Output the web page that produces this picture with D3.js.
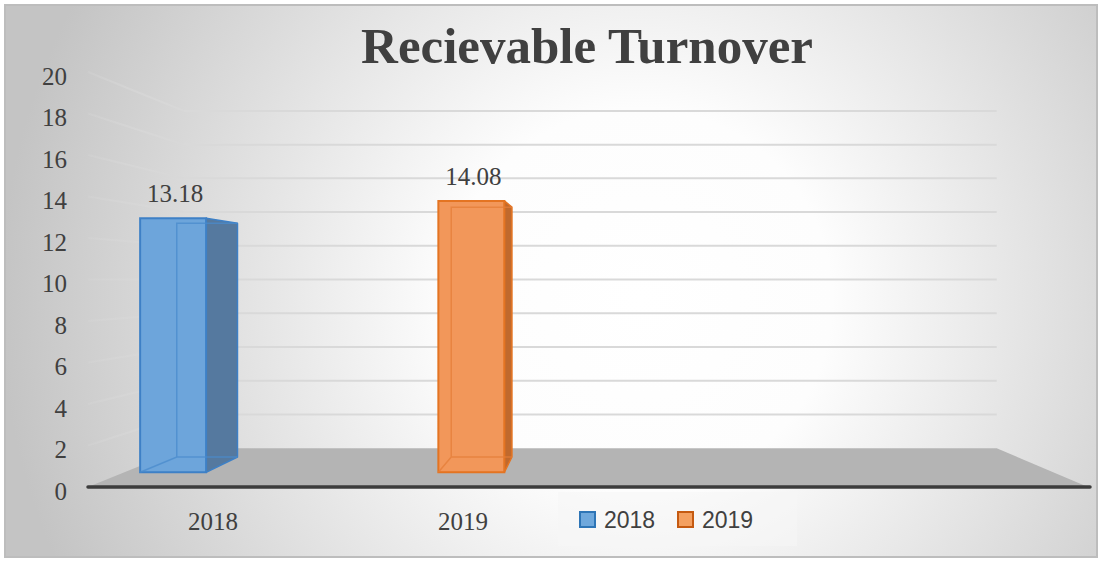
<!DOCTYPE html>
<html><head><meta charset="utf-8">
<script src="https://cdn.jsdelivr.net/npm/d3@7"></script>
<style>html,body{margin:0;padding:0;background:#fff;}svg{display:block;}</style>
</head><body>
<svg id="chart" width="1101" height="561"></svg>
<script>
const title = "Recievable Turnover";
const categories = ["2018", "2019"];
const seriesNames = ["2018", "2019"];
const series2018 = [13.18, null];
const series2019 = [null, 14.08];
const yTicks = [0, 2, 4, 6, 8, 10, 12, 14, 16, 18, 20];
const seriesColors = {
  "2018": {front: "#6da5db", side: "#55799f", stroke: "#3e80c6", inner: "#4a8bcc", legFill: "#6fa8dc", legStroke: "#2e75b6"},
  "2019": {front: "#f2975a", side: "#c0692d", stroke: "#e47422", inner: "#e47e38", legFill: "#f4a060", legStroke: "#c55a11"}
};
const serif = "'Liberation Serif', 'Times New Roman', Times, serif";
const sans = "'Liberation Sans', Arial, sans-serif";

const svg = d3.select("#chart");
const defs = svg.append("defs");

// background gradient
const bg = defs.append("radialGradient").attr("id", "bg")
  .attr("gradientUnits", "userSpaceOnUse").attr("cx", 640).attr("cy", 300).attr("r", 640);
bg.append("stop").attr("offset", 0).attr("stop-color", "#ffffff");
bg.append("stop").attr("offset", 0.3).attr("stop-color", "#fdfdfd");
bg.append("stop").attr("offset", 1).attr("stop-color", "#c4c4c4");

svg.append("rect").attr("x", 5).attr("y", 5).attr("width", 1092).attr("height", 552)
  .attr("fill", "url(#bg)").attr("stroke", "#bdbdbd").attr("stroke-width", 2);

// scales (front plane)
const y = d3.scaleLinear().domain([0, 20]).range([487, 72]);
const x = d3.scaleBand().domain(categories).range([88, 588]);
const xs = d3.scaleBand().domain(seriesNames).range([17, 159]);
const frontLeft = 88, frontRight = 1088;

// one-point perspective
const VP = [600, 280];
const tWall = 0.187, tFront = 0.071, tBack = 0.145;
const P = (xf, v, t) => {
  const yf = y(v);
  return [xf + (VP[0] - xf) * t, yf + (VP[1] - yf) * t];
};
const line = pts => "M" + pts.map(p => p[0].toFixed(2) + "," + p[1].toFixed(2)).join("L");
const poly = pts => line(pts) + "Z";

// side wall fading gradient
const sg = defs.append("linearGradient").attr("id", "sideGrad")
  .attr("gradientUnits", "userSpaceOnUse").attr("x1", frontLeft).attr("x2", P(frontLeft, 0, tWall)[0]).attr("y1", 0).attr("y2", 0);
sg.append("stop").attr("offset", 0).attr("stop-color", "#d8d8d8").attr("stop-opacity", 0.25);
sg.append("stop").attr("offset", 1).attr("stop-color", "#d8d8d8").attr("stop-opacity", 1);

// gridlines
const grid = svg.append("g");
yTicks.filter(v => v > 0).forEach(v => {
  grid.append("path").attr("d", line([P(frontLeft, v, tWall), P(frontRight, v, tWall)]))
    .attr("stroke", "#d9d9d9").attr("stroke-width", 2).attr("fill", "none");
  grid.append("path").attr("d", line([[frontLeft, y(v)], P(frontLeft, v, tWall)]))
    .attr("stroke", "url(#sideGrad)").attr("stroke-width", 2).attr("fill", "none");
});

// floor
svg.append("path")
  .attr("d", poly([[frontLeft, y(0)], P(frontLeft, 0, tWall), P(frontRight, 0, tWall), [frontRight, y(0)]]))
  .attr("fill", "#b4b4b4");
svg.append("line").attr("x1", frontLeft).attr("x2", frontRight + 2).attr("y1", y(0)).attr("y2", y(0))
  .attr("stroke", "#3c3c3c").attr("stroke-width", 3.5).attr("stroke-linecap", "round");

// y tick labels
svg.append("g").selectAll("text").data(yTicks).join("text")
  .attr("x", 67).attr("y", d => y(d) + 4).attr("dy", "0.35em")
  .attr("text-anchor", "end")
  .style("font-family", serif).attr("font-size", 25)
  .attr("fill", "#404040").text(d => d);

// bars
const data = [];
seriesNames.forEach((s, si) => {
  const vals = si === 0 ? series2018 : series2019;
  categories.forEach((c, ci) => {
    if (vals[ci] != null) data.push({series: s, cat: c, value: vals[ci]});
  });
});

const bars = svg.append("g");
data.forEach(d => {
  const col = seriesColors[d.series];
  const x0 = x(d.cat) + xs(d.series), x1 = x0 + xs.bandwidth();
  const fBL = P(x0, 0, tFront), fBR = P(x1, 0, tFront), fTR = P(x1, d.value, tFront), fTL = P(x0, d.value, tFront);
  const bBL = P(x0, 0, tBack), bBR = P(x1, 0, tBack), bTR = P(x1, d.value, tBack), bTL = P(x0, d.value, tBack);
  const g = bars.append("g");
  g.append("path").attr("d", poly([fTR, bTR, bBR, fBR]))
    .attr("fill", col.side).attr("stroke", col.stroke).attr("stroke-width", 1.5).attr("stroke-linejoin", "round");
  g.append("path").attr("d", poly([fBL, fBR, fTR, fTL]))
    .attr("fill", col.front).attr("stroke", col.stroke).attr("stroke-width", 2);
  g.append("path").attr("d", line([fBL, bBL, bBR]) + line([bBL, bTL, bTR]))
    .attr("fill", "none").attr("stroke", col.inner).attr("stroke-width", 1.5).attr("opacity", 0.75);
  svg.append("text")
    .attr("x", (fTL[0] + fTR[0]) / 2 + 2).attr("y", fTL[1] - 16)
    .attr("text-anchor", "middle")
    .style("font-family", serif).attr("font-size", 25)
    .attr("fill", "#404040").text(d.value.toFixed(2));
});

// category labels
svg.append("g").selectAll("text").data(categories).join("text")
  .attr("x", d => x(d) + x.bandwidth() / 2).attr("y", 530)
  .attr("text-anchor", "middle")
  .style("font-family", serif).attr("font-size", 25)
  .attr("fill", "#404040").text(d => d);

// title
svg.append("text").attr("x", 587).attr("y", 63).attr("text-anchor", "middle")
  .style("font-family", serif).attr("font-weight", "bold").attr("font-size", 51)
  .attr("fill", "#404040").text(title);

// legend
const leg = svg.append("g");
leg.append("rect").attr("x", 558).attr("y", 492).attr("width", 239).attr("height", 54)
  .attr("fill", "#f6f6f6").attr("opacity", 0.55);
const legX = d3.scaleOrdinal().domain(seriesNames).range([580, 678]);
seriesNames.forEach(s => {
  const col = seriesColors[s];
  leg.append("rect").attr("x", legX(s)).attr("y", 512).attr("width", 15).attr("height", 15)
    .attr("fill", col.legFill).attr("stroke", col.legStroke).attr("stroke-width", 2);
  leg.append("text").attr("x", legX(s) + 24).attr("y", 528)
    .style("font-family", sans).attr("font-size", 23)
    .attr("fill", "#404040").text(s);
});
</script>
</body></html>
